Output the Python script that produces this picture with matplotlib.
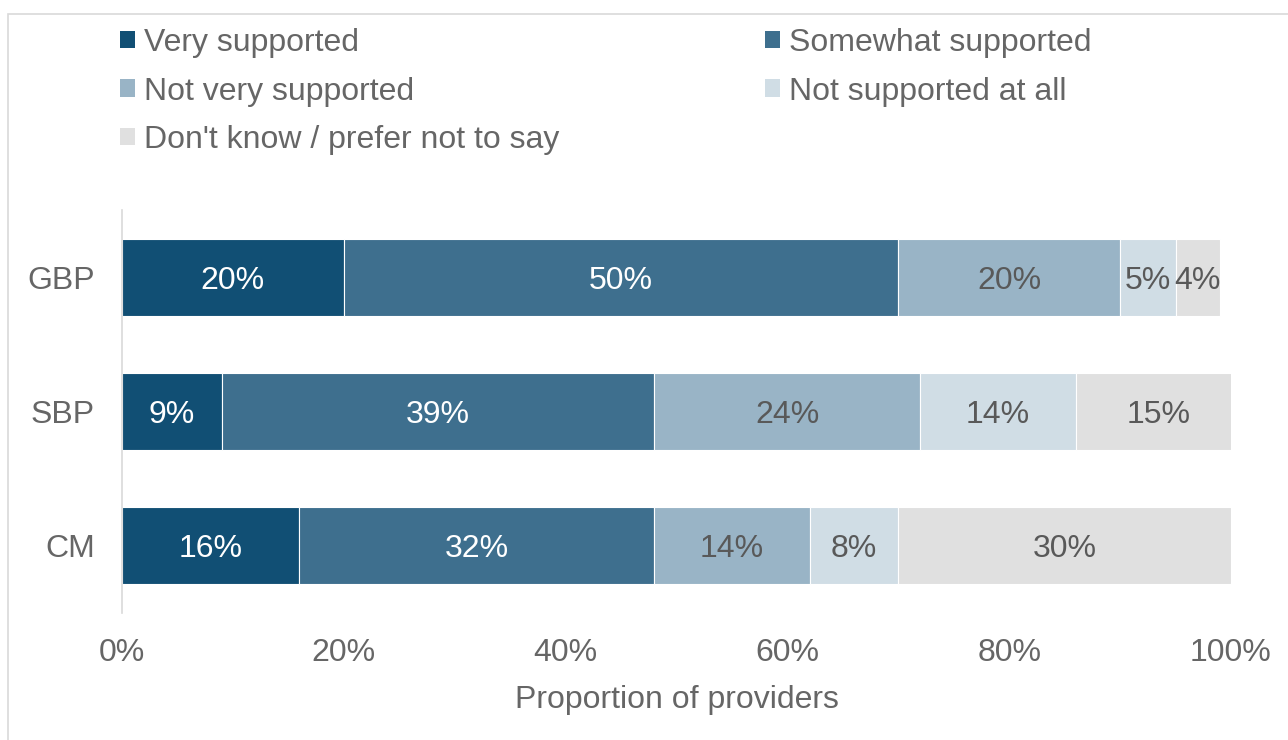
import matplotlib.pyplot as plt
import matplotlib as mpl
from matplotlib.patches import Rectangle, Patch

mpl.rc('font', family=['Liberation Sans', 'DejaVu Sans'])

# data
groups = ["GBP", "SBP", "CM"]
categories = ["Very supported", "Somewhat supported", "Not very supported",
              "Not supported at all", "Don't know / prefer not to say"]
very = [20, 9, 16]
somewhat = [50, 39, 32]
not_very = [20, 24, 14]
not_at_all = [5, 14, 8]
dont_know = [4, 15, 30]
x_ticks = [0, 20, 40, 60, 80, 100]

series = [very, somewhat, not_very, not_at_all, dont_know]
colors = ["#114f74", "#3e6f8e", "#99b4c6", "#d0dde5", "#e0e0e0"]
label_colors = ["white", "white", "#595959", "#595959", "#595959"]
grey = "#666666"
fs = 23

fig = plt.figure(figsize=(12.88, 7.4), dpi=100)
ax = fig.add_axes([122/1288, 1 - 613/740, (1231 - 122)/1288, (613 - 210)/740])

# figure border
fig.patches.append(Rectangle((8/1288, -0.05), 1.2, 1 - 14/740 + 0.05,
                             transform=fig.transFigure, fill=False,
                             edgecolor="#d9d9d9", linewidth=1.2))

ypos = [2, 1, 0]
left = [0, 0, 0]
for vals, col, lc in zip(series, colors, label_colors):
    bars = ax.barh(ypos, vals, left=left, height=0.575, color=col,
                   edgecolor="white", linewidth=0.8)
    for b, v, l in zip(bars, vals, left):
        ax.text(l + v / 2, b.get_y() + b.get_height() / 2, f"{v}%",
                ha="center", va="center_baseline", color=lc, fontsize=fs)
    left = [a + b for a, b in zip(left, vals)]

ax.set_xlim(0, 100)
ax.set_ylim(-0.5, 2.5)
ax.set_yticks(ypos)
ax.set_yticklabels(groups)
ax.set_xticks(x_ticks)
ax.set_xticklabels([f"{t}%" for t in x_ticks])
ax.tick_params(length=0, labelsize=fs, colors=grey)
ax.tick_params(axis="y", pad=19.5)
ax.tick_params(axis="x", pad=18)
for s in ["top", "right", "bottom"]:
    ax.spines[s].set_visible(False)
ax.spines["left"].set_color("#d9d9d9")
ax.spines["left"].set_linewidth(1.2)
ax.set_xlabel("Proportion of providers", fontsize=fs, color=grey, labelpad=12)

# legend, row-major order like the original
handles = [Patch(facecolor=c) for c in colors]
order = [0, 2, 4, 1, 3]
fig.legend([handles[i] for i in order], [categories[i] for i in order],
           ncol=2, loc="upper left", bbox_to_anchor=(120/1288, 1 - 28/740),
           frameon=False, fontsize=fs, labelcolor=grey,
           handlelength=0.47, handleheight=0.47, handletextpad=0.28,
           labelspacing=0.58, columnspacing=6.45, borderpad=0, borderaxespad=0)

plt.savefig("out.png")
